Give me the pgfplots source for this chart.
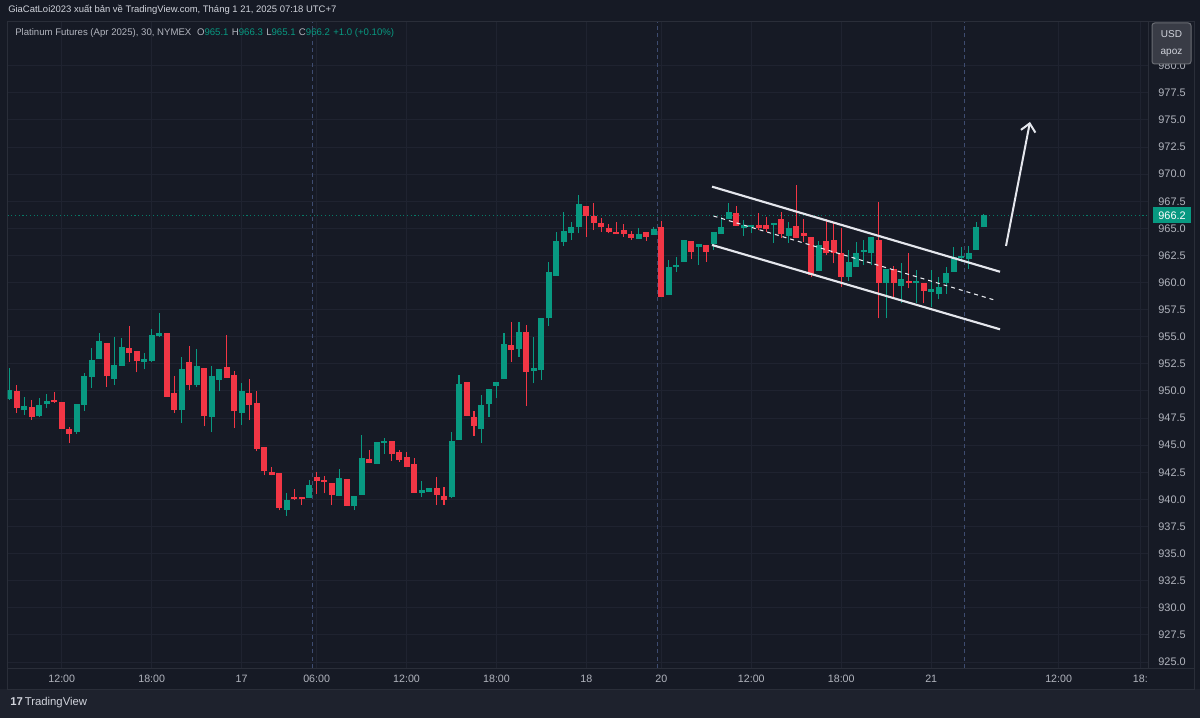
\documentclass[border=0pt]{standalone}
\usepackage{pgfplots}
\pgfplotsset{compat=1.18}
\usepackage{pgfplotstable}
\usepackage{fontspec}
\setmainfont{Liberation Sans}
\usetikzlibrary{arrows.meta}
\definecolor{cbg}{HTML}{161A25}
\definecolor{cbot}{HTML}{1E222D}
\definecolor{cgrid}{HTML}{1F2330}
\definecolor{cborder}{HTML}{2A2E39}
\definecolor{ctext}{HTML}{B2B5BE}
\definecolor{chead}{HTML}{D1D4DC}
\definecolor{cgreen}{HTML}{089981}
\definecolor{cred}{HTML}{F23645}
\definecolor{csess}{HTML}{3E4C70}
\definecolor{cline}{HTML}{E4E6EC}

\pgfplotstableread{
i o h l c
0 949.30 952.10 949.20 950.10
2 948.21 949.44 947.81 948.58
4 947.66 949.34 947.60 948.73
5 948.80 949.70 948.40 949.10
9 946.20 948.80 946.05 948.80
10 948.73 951.70 948.20 951.40
11 951.28 954.00 950.26 952.87
12 952.94 955.33 952.94 954.62
14 951.10 954.96 950.57 952.40
15 952.35 954.87 952.35 954.10
18 952.72 953.55 952.00 952.97
19 952.78 955.70 952.72 955.18
20 955.10 957.17 955.02 955.33
23 948.27 953.18 947.04 952.01
25 950.57 953.86 950.36 952.26
27 947.60 952.26 946.18 951.34
28 951.03 952.04 949.96 952.04
31 947.96 950.72 946.89 950.02
37 939.06 940.59 938.50 939.98
40 940.14 941.80 940.14 941.37
44 940.31 942.77 940.31 941.94
46 939.39 940.31 939.02 940.31
47 940.41 945.94 940.41 943.85
49 943.27 945.33 943.27 945.33
50 945.17 945.70 944.19 945.42
55 940.62 941.73 940.19 940.87
56 940.71 941.02 940.71 941.02
59 940.25 946.20 940.10 945.42
60 945.48 951.47 945.48 950.64
63 946.46 949.63 945.23 948.71
64 948.77 950.18 947.63 950.18
65 950.46 950.86 949.32 950.86
66 951.07 955.38 951.07 954.30
68 953.84 956.39 953.17 955.47
70 951.87 954.95 950.70 952.09
71 951.94 956.76 951.01 956.76
72 956.70 961.93 955.99 961.01
73 960.61 964.70 960.61 963.87
74 963.77 966.54 963.37 964.76
75 964.60 965.62 963.93 965.16
76 965.10 968.08 964.54 967.25
84 964.05 965.00 964.05 964.45
86 964.39 965.16 964.39 964.91
88 958.86 962.09 958.86 961.47
89 961.47 962.40 961.01 961.63
90 961.94 963.94 961.94 963.94
92 963.32 963.53 961.63 963.53
94 963.53 964.70 963.01 964.70
95 964.49 966.09 964.49 965.17
96 965.84 967.38 965.84 966.55
98 965.01 965.78 964.31 965.32
99 965.17 965.32 964.55 965.32
102 965.32 965.53 963.63 965.53
104 964.31 965.63 963.69 965.01
108 961.10 963.84 961.10 963.47
112 960.55 963.00 960.18 961.93
113 961.47 963.78 961.47 962.70
114 962.86 963.93 961.63 963.01
115 962.70 964.24 961.63 964.24
117 959.94 961.23 956.71 961.23
119 959.69 961.84 958.09 960.30
121 960.00 961.17 958.09 960.15
123 959.17 961.17 957.72 959.38
124 958.92 960.55 958.46 959.63
125 960.00 961.47 958.94 960.86
126 961.01 963.26 961.01 962.33
127 962.24 963.32 961.93 962.45
128 962.15 963.38 961.23 962.76
129 963.01 965.62 963.01 965.10
130 965.10 966.30 965.10 966.20
}\greentab

\pgfplotstableread{
i o h l c
1 949.96 950.57 947.96 948.42
3 948.48 949.19 947.35 947.59
6 949.20 949.90 948.90 948.95
7 949.00 949.00 946.50 946.50
8 946.50 946.70 945.20 946.05
13 954.40 954.40 950.36 951.34
16 954.00 956.04 952.72 953.55
17 953.73 953.73 951.71 952.78
21 955.33 955.33 949.44 949.44
22 949.80 951.34 947.96 948.27
24 952.72 954.19 950.11 950.57
26 952.10 952.10 946.73 947.66
29 952.20 955.18 951.19 951.19
30 951.49 951.80 946.58 948.12
32 949.80 951.12 947.35 948.73
33 948.88 949.96 944.43 944.64
34 944.83 944.83 942.22 942.59
35 942.53 942.99 942.22 942.22
36 942.44 942.44 938.99 939.21
38 940.23 940.96 939.98 940.01
39 940.20 940.20 939.50 940.00
41 942.04 942.50 940.53 941.67
42 941.79 942.16 940.56 941.64
43 941.54 941.54 939.48 940.41
45 941.85 941.85 939.39 939.39
48 943.70 944.56 943.33 943.33
51 945.39 945.39 943.54 944.16
52 944.40 944.56 943.48 943.63
53 943.88 944.40 943.02 943.02
54 943.27 943.79 940.62 940.62
57 941.02 942.10 939.48 940.41
58 940.31 941.11 939.48 939.94
61 950.86 950.86 947.69 947.69
62 947.63 948.18 945.85 946.77
67 954.24 956.39 952.70 953.78
69 955.47 956.09 948.61 951.78
77 967.06 967.06 964.24 966.14
78 966.14 967.37 964.85 965.53
79 965.47 965.93 964.70 965.10
80 965.00 965.37 964.54 964.70
81 964.70 965.62 964.48 964.48
82 964.85 965.37 964.24 964.48
83 964.45 964.79 963.93 964.14
85 964.70 964.70 963.87 964.24
87 965.10 965.71 958.70 958.70
91 963.87 963.87 962.15 962.86
93 963.47 963.47 961.94 962.86
97 966.46 967.07 965.23 965.23
100 965.32 966.40 964.86 965.01
101 965.32 966.03 964.70 964.92
103 965.84 966.55 964.09 964.49
105 965.23 969.01 964.09 964.09
106 964.55 965.84 963.78 964.31
107 964.24 964.24 960.55 960.71
109 963.84 965.84 962.55 962.76
110 963.94 965.47 961.78 962.70
111 962.76 965.01 959.63 960.55
116 963.93 967.47 956.71 959.94
118 961.23 961.53 958.55 959.99
120 960.15 962.70 959.47 959.94
122 960.00 960.00 958.09 959.26
}\redtab

\pgfplotsset{
  wick/.style={draw=none, mark=none, forget plot,
    error bars/.cd, y dir=plus, y explicit, error mark=none,
    error bar style={draw=#1, line width=0.8pt}},
  body/.style={draw=none, mark=none, forget plot,
    error bars/.cd, y dir=plus, y explicit, error mark=none,
    error bar style={draw=#1, line width=4.5pt}},
}

\begin{document}
\begin{tikzpicture}[x=0.75pt,y=0.75pt]
\path[use as bounding box] (0pt,0pt) rectangle (900pt,538.5pt);
\fill[cbg] (0,0) rectangle (1200,718);
\fill[cbot] (0,0) rectangle (1200,29);
\draw[cborder, line width=0.75pt] (7.5,29) rectangle (1194,696);
\draw[cborder, line width=0.75pt] (7.5,50) -- (1194,50);
\begin{axis}[
  at={(5.625pt,37.5pt)}, anchor=south west,
  scale only axis, width=855.4pt, height=484.5pt,
  xmin=-0.24, xmax=151.93, ymin=924.447, ymax=984.04,
  axis line style={draw=cborder, line width=0.75pt},
  major tick length=0pt,
  /pgf/number format/assume math mode=true,
  xtick={7,19,31,41,53,65,77,87,99,111,123,140,150.9},
  xticklabels={12:00,18:00,17,06:00,12:00,18:00,18,20,12:00,18:00,21,12:00,18:},
  ytick={925,927.5,930,932.5,935,937.5,940,942.5,945,947.5,950,952.5,955,957.5,960,962.5,965,967.5,970,972.5,975,977.5,980},
  yticklabel pos=right,
  y tick label style={/pgf/number format/fixed, /pgf/number format/fixed zerofill, /pgf/number format/precision=1,
    anchor=center, xshift=18pt, text=ctext, font=\fontsize{8.2}{9}\selectfont},
  x tick label style={anchor=center, yshift=-8pt, text=ctext, font=\fontsize{8}{9}\selectfont},
  grid=major, major grid style={draw=cgrid, line width=0.75pt},
  extra y ticks={966.2},
  extra y tick style={grid=none, yticklabel style={fill=cgreen, text=white, inner sep=2pt, minimum width=29pt, minimum height=12pt}},
]
% current price dotted line
\addplot[cgreen!80!black, dotted, line width=0.8pt] coordinates {(-0.24,966.2) (151.93,966.2)};
% session breaks
\addplot[csess, line width=0.8pt, dash pattern=on 3pt off 2.5pt] coordinates {(40.5,924.447) (40.5,984.04)};
\addplot[csess, line width=0.8pt, dash pattern=on 3pt off 2.5pt] coordinates {(86.5,924.447) (86.5,984.04)};
\addplot[csess, line width=0.8pt, dash pattern=on 3pt off 2.5pt] coordinates {(127.5,924.447) (127.5,984.04)};
% candles
\addplot[wick=cgreen] table[x=i, y=l, y error expr=\thisrow{h}-\thisrow{l}] {\greentab};
\addplot[body=cgreen] table[x=i, y=o, y error expr={max(\thisrow{c}-\thisrow{o},0.09)}] {\greentab};
\addplot[wick=cred] table[x=i, y=l, y error expr=\thisrow{h}-\thisrow{l}] {\redtab};
\addplot[body=cred] table[x=i, y=c, y error expr={max(\thisrow{o}-\thisrow{c},0.09)}] {\redtab};
% channel
\addplot[cline, line width=1.6pt] coordinates {(93.76,968.85) (132.18,961.0)};
\addplot[cline, line width=1.6pt] coordinates {(93.76,963.47) (132.18,955.69)};
\addplot[cline!80, line width=0.8pt, dash pattern=on 3pt off 3pt] coordinates {(93.96,966.14) (131.74,958.33)};
% arrow
\addplot[cline, line width=1.5pt, -{Straight Barb[length=6pt, width=11pt, line width=1.5pt]}] coordinates {(132.98,963.38) (136.18,974.82)};
\end{axis}
% USD box
\draw[draw=cborder!70!white, fill=cbg!85!white, rounded corners=2pt, line width=0.75pt] (1152,695) rectangle (1191,654);
\node[text=chead, font=\fontsize{7.5}{9}\selectfont, inner sep=0] at (1171.5,684) {USD};
\node[text=chead, font=\fontsize{7.5}{9}\selectfont, inner sep=0] at (1171.5,665) {apoz};
% header
\node[anchor=west, inner sep=0, text=chead, font=\fontsize{7.1}{9}\selectfont] at (8,708)
  {GiaCatLoi2023 xuất bản về TradingView.com, Tháng 1 21, 2025 07:18 UTC+7};
\node[anchor=west, inner sep=0, text=ctext, font=\fontsize{7.2}{9}\selectfont] at (15,685)
  {Platinum Futures (Apr 2025), 30, NYMEX\hspace{0.6em}O\textcolor{cgreen}{965.1}\hspace{0.35em}H\textcolor{cgreen}{966.3}\hspace{0.35em}L\textcolor{cgreen}{965.1}\hspace{0.35em}C\textcolor{cgreen}{966.2}\hspace{0.35em}\textcolor{cgreen}{+1.0 (+0.10\%)}};
% footer logo
\node[anchor=west, inner sep=0, text=chead, font=\fontsize{8.5}{10}\selectfont] at (10,15)
  {{\bfseries 17}\,TradingView};
\end{tikzpicture}
\end{document}
